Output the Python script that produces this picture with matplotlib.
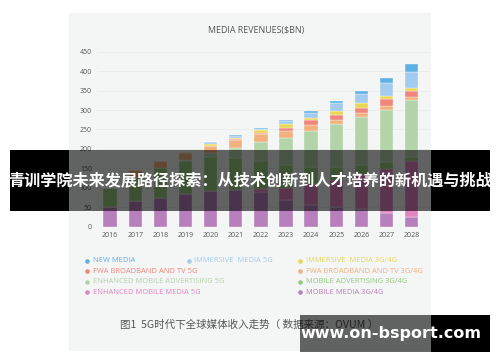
import numpy as np
import matplotlib
matplotlib.use("Agg")
import matplotlib.pyplot as plt
from matplotlib.patches import Rectangle

# data ($BN), stacked bottom -> top
years = ['2016', '2017', '2018', '2019', '2020', '2021', '2022',
         '2023', '2024', '2025', '2026', '2027', '2028']
mobile_media_4g = [50, 66, 75, 84, 92, 94, 90, 69, 56, 50, 45, 36, 26]
enh_mobile_media_5g = [0, 0, 0, 0, 0, 0, 7, 31, 54, 70, 87, 112, 142]
mobile_adv_4g = [49, 58.5, 75, 85, 88, 82, 72, 58, 44, 34, 26, 18, 12]
enh_mobile_adv_5g = [0, 0, 0, 2.6, 8.8, 25.6, 48, 71, 93, 109.3, 124, 135, 145]
fwa_4g = [0, 21, 20, 19, 18.5, 20.6, 21.4, 18, 14.6, 11, 9.4, 9.4, 8.6]
fwa_5g = [0, 0, 0, 0, 1, 2.6, 3.4, 7.7, 12, 13.7, 14.6, 18, 15.4]
immersive_4g = [0, 0, 0, 1, 5.1, 4.3, 6, 8.6, 6.9, 10.3, 11.1, 7.7, 6.9]
immersive_5g = [0, 0, 0, 1, 3.4, 5.1, 4.3, 8.6, 12.9, 18.9, 23.1, 32.6, 41.1]
new_media = [0, 0, 0, 0.5, 0.8, 1.7, 2.6, 2.6, 4.3, 6, 8.6, 14.6, 21.4]
yticks = [0, 50, 100, 150, 200, 250, 300, 350, 400, 450]

series = [
    ('MOBILE MEDIA 3G/4G', mobile_media_4g, '#b77fbb'),
    ('ENHANCED MOBILE MEDIA 5G', enh_mobile_media_5g, '#e283c2'),
    ('MOBILE ADVERTISING 3G/4G', mobile_adv_4g, '#93ca7c'),
    ('ENHANCED MOBILE ADVERTISING 5G', enh_mobile_adv_5g, '#b3d3a8'),
    ('FWA BROADBAND AND TV 3G/4G', fwa_4g, '#f2b07e'),
    ('FWA BROADBAND AND TV 5G', fwa_5g, '#ef857c'),
    ('IMMERSIVE  MEDIA 3G/4G', immersive_4g, '#e9d655'),
    ('IMMERSIVE  MEDIA 5G', immersive_5g, '#a2cbee'),
    ('NEW MEDIA', new_media, '#5eb0e5'),
]

W, H = 500, 362
fig = plt.figure(figsize=(W / 100, H / 100), dpi=100)
fig.patch.set_facecolor('white')

# background layer (pixel coords)
bg = fig.add_axes([0, 0, 1, 1], zorder=-1)
bg.set_xlim(0, W)
bg.set_ylim(H, 0)
bg.axis('off')
bg.add_patch(Rectangle((69, 13), 362, 338, color='#f4f5f5', lw=0))
bg.text(256, 30, 'MEDIA REVENUES($BN)', ha='center', va='center',
        fontsize=6.4, color='#555555', family='Open Sans')

# legend, hand placed in 3 columns
leg_pos = {
    'NEW MEDIA': (87, 260.7), 'IMMERSIVE  MEDIA 5G': (188.5, 260.7),
    'IMMERSIVE  MEDIA 3G/4G': (299.5, 260.7),
    'FWA BROADBAND AND TV 5G': (87, 271.2), 'FWA BROADBAND AND TV 3G/4G': (299.5, 271.2),
    'ENHANCED MOBILE ADVERTISING 5G': (87, 281.7), 'MOBILE ADVERTISING 3G/4G': (299.5, 281.7),
    'ENHANCED MOBILE MEDIA 5G': (87, 292.2), 'MOBILE MEDIA 3G/4G': (299.5, 292.2),
}
for name, vals, col in series:
    lx, ly = leg_pos[name]
    bg.plot(lx, ly, 'o', ms=3.3, color=col, mec='none')
    bg.text(lx + 6, ly, name, ha='left', va='center', fontsize=5.4,
            color=col, family='Open Sans')

bg.text(120, 325, '图1  5G时代下全球媒体收入走势（ 数据来源：OVUM ）', ha='left', va='center',
        fontsize=7.6, color='#555555', family=['Noto Sans CJK SC', 'DejaVu Sans'])

# main chart
ax = fig.add_axes([97 / W, 1 - 226.7 / H, (430 - 97) / W, (226.7 - 51.7) / H])
ax.set_facecolor('none')
x = np.arange(len(years))
bottom = np.zeros(len(years))
for name, vals, col in series:
    v = np.array(vals, dtype=float)
    ax.bar(x, v, 0.53, bottom=bottom, color=col, edgecolor='#ffffff', linewidth=0.25, zorder=3)
    bottom += v
ax.set_xlim(-0.52, 12.73)
ax.set_ylim(0, 450)
ax.set_yticks(yticks)
ax.set_xticks(x)
ax.set_xticklabels(years)
ax.tick_params(length=0, labelsize=5, labelcolor='#555555', pad=3.5)
for lab in ax.get_xticklabels() + ax.get_yticklabels():
    lab.set_family('Open Sans')
ax.yaxis.grid(True, color='#e6e8e8', lw=0.5, zorder=0)
for s in ax.spines.values():
    s.set_visible(False)
ax.axhline(0, color='#dcdede', lw=0.6, zorder=2)

# overlay layer: banner + watermark
ov = fig.add_axes([0, 0, 1, 1], zorder=10)
ov.set_xlim(0, W)
ov.set_ylim(H, 0)
ov.axis('off')
ov.patch.set_alpha(0)
for x0, x1, y0, y1 in [(10, 490, 150, 211), (300, 490, 315, 352)]:
    if x0 < 69:
        ov.add_patch(Rectangle((x0, y0), 69 - x0, y1 - y0, color='black', lw=0))
    ov.add_patch(Rectangle((max(x0, 69), y0), 431 - max(x0, 69), y1 - y0, color='black', alpha=0.6, lw=0))
    ov.add_patch(Rectangle((431, y0), x1 - 431, y1 - y0, color='black', lw=0))
ov.text(250, 181, '青训学院未来发展路径探索：从技术创新到人才培养的新机遇与挑战', ha='center', va='center',
        fontsize=11.6, color='white', fontweight='bold', family=['Noto Sans CJK SC', 'DejaVu Sans'])
ov.text(391, 333.5, 'www.on-bsport.com', ha='center', va='center',
        fontsize=11.5, color='white', fontweight='bold', family='DejaVu Sans')

fig.savefig('out.png', dpi=100)
